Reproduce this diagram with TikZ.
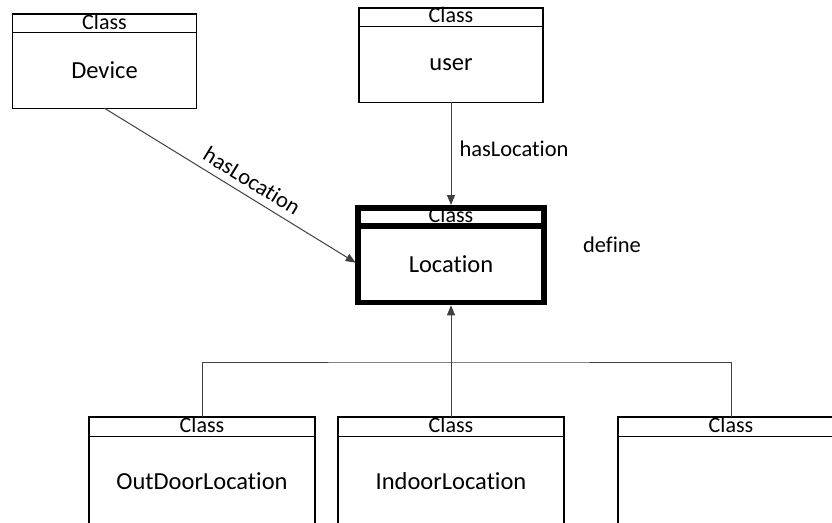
\documentclass[tikz,border=0pt]{standalone}
\usepackage{fontspec}
\setmainfont{Carlito}[Ligatures=NoCommon]
\usetikzlibrary{positioning,arrows.meta}

\begin{document}
\begin{tikzpicture}[x=1pt,y=-1pt,
    entete/.style={draw,fill=white,line width=1.5pt,outer sep=0pt,inner sep=0pt,
        minimum width=184pt,minimum height=18.5pt,text height=15pt,text depth=3pt,
        font=\fontsize{22}{22}\selectfont,anchor=north},
    corps/.style={draw,fill=white,line width=1.5pt,outer sep=0pt,inner sep=0pt,
        minimum width=184pt,minimum height=76pt,font=\fontsize{24.5}{24.5}\selectfont},
    lien/.style={draw=black!75,line width=1pt},
    fleche/.style={lien,-{Triangle[length=10pt,width=8pt]}},
    etiq/.style={font=\fontsize{22.5}{22.5}\selectfont,inner sep=1pt}]
    \def\epais{5.5pt}
    \clip (0,0) rectangle (832,522);

    % classes du haut
    \node[entete] (devhd) at (104.5,13.75) {Class};
    \node[corps,below=0pt of devhd] (devbd) {Device};
    \node[entete] (userhd) at (451,7.75) {Class};
    \node[corps,below=0pt of userhd] (userbd) {user};

    \node[entete,line width=\epais,minimum width=186pt,minimum height=17.75pt] (lochd) at (451,207.75) {Class};
    \node[corps,line width=\epais,minimum width=186pt,minimum height=76.75pt,below=0pt of lochd] (locbd) {Location};

    % classes du bas
    \node[entete,minimum width=226pt,minimum height=19.5pt] (outhd) at (202,416.75) {Class};
    \node[corps,minimum width=226pt,minimum height=90pt,below=0pt of outhd] (outbd) {OutDoorLocation};
    \node[entete,minimum width=226pt,minimum height=19.5pt] (inhd) at (451,416.75) {Class};
    \node[corps,minimum width=226pt,minimum height=90pt,below=0pt of inhd] (inbd) {IndoorLocation};
    \node[entete,minimum width=226pt,minimum height=19.5pt] (thdhd) at (731,416.75) {Class};
    \node[corps,minimum width=226pt,minimum height=90pt,below=0pt of thdhd] (thdbd) {};

    \draw[fleche,shorten >=2.75pt] (devbd.south) -- node[etiq,sloped,above=6pt,pos=0.55] (lbldev) {hasLocation} (locbd.west);
    \draw[fleche,shorten >=2.75pt] (userbd.south) -- node[etiq,right=7pt,pos=0.44] (lbluser) {hasLocation} (lochd.north);
    \node[etiq] (lbldef) at (612,245) {define};

    \coordinate (bus) at (451,362);
    \draw[lien] (outhd.north) |- (bus) -| (thdhd.north);
    \draw[fleche,shorten >=2.75pt] (inhd.north) -- (locbd.south);

\end{tikzpicture}
\end{document}
